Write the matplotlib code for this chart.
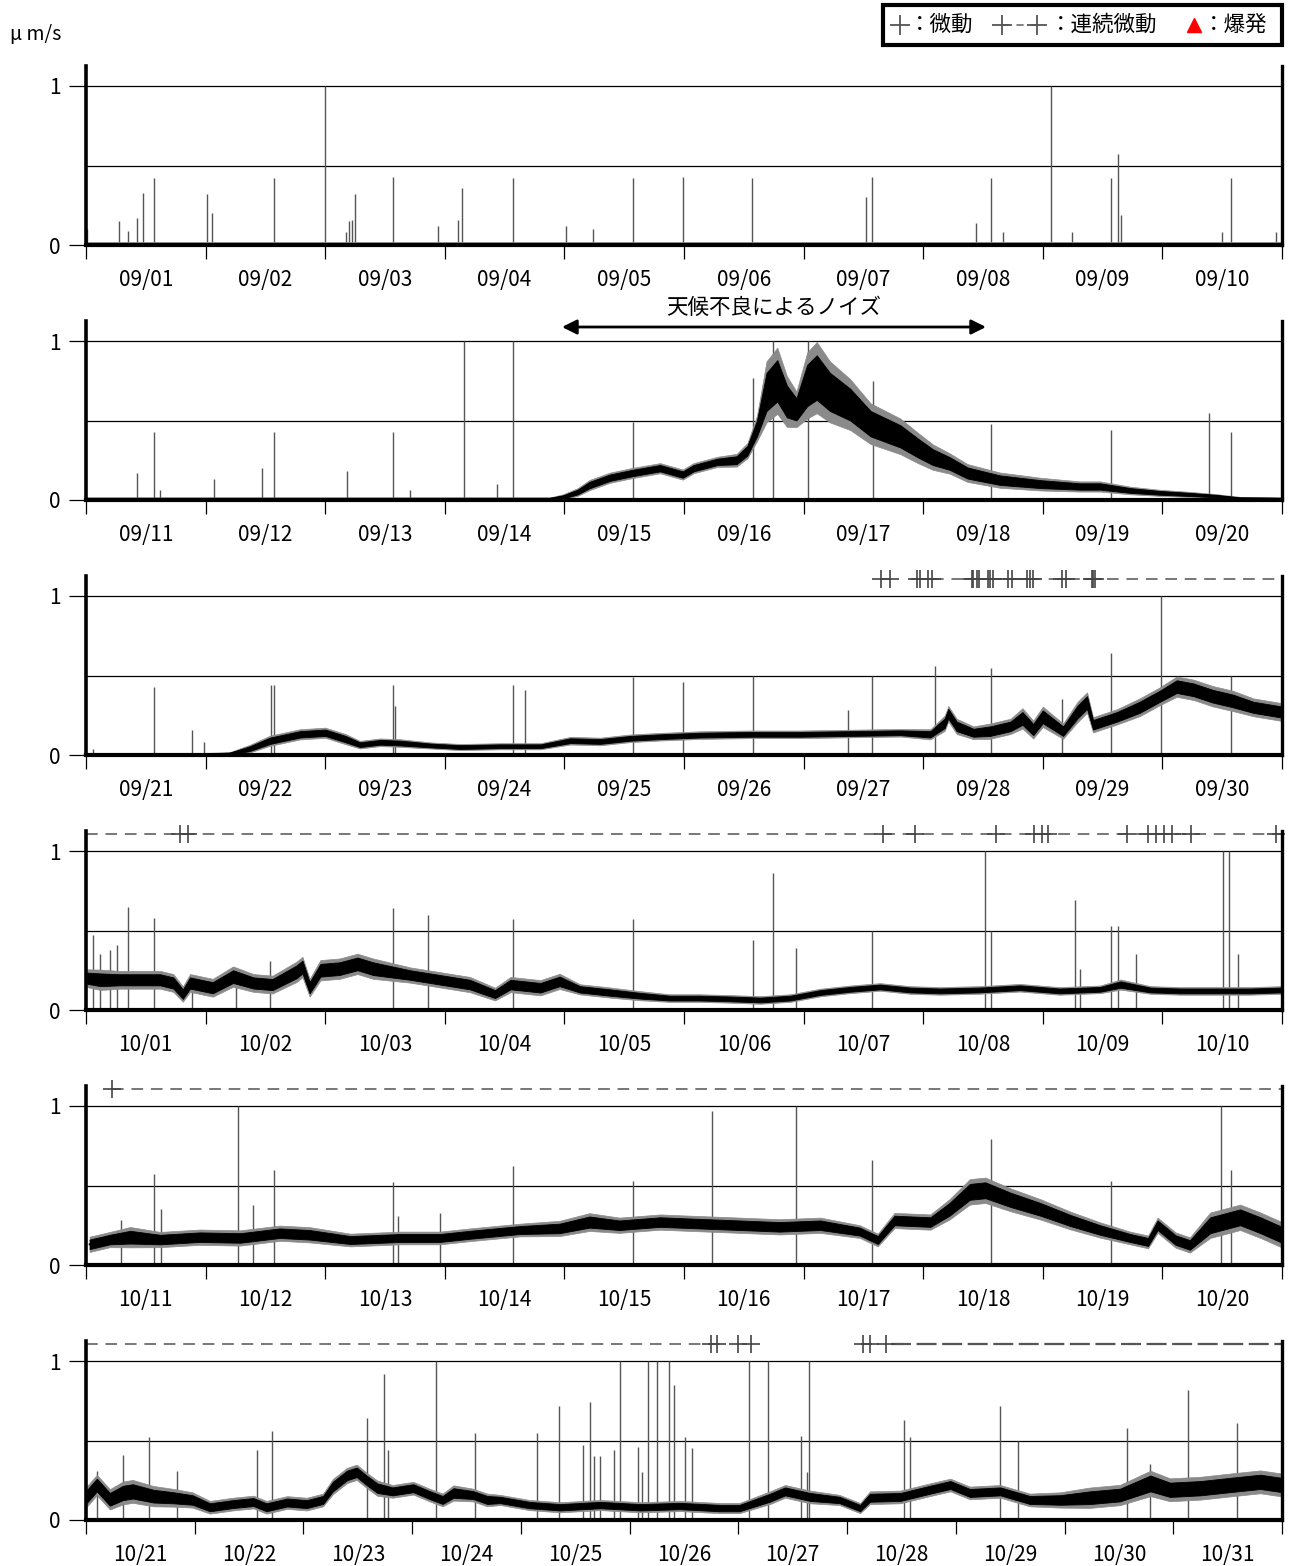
import numpy as np
import matplotlib
matplotlib.use('Agg')
import matplotlib.pyplot as plt
from matplotlib.patches import Rectangle

plt.rcParams['font.family'] = ['Noto Sans CJK JP', 'DejaVu Sans']

W, H = 1292, 1566

# ---------------- data (days from panel start, amplitude in um/s) ----------------
labels1 = ['09/01', '09/02', '09/03', '09/04', '09/05', '09/06', '09/07', '09/08', '09/09', '09/10']
labels2 = ['09/11', '09/12', '09/13', '09/14', '09/15', '09/16', '09/17', '09/18', '09/19', '09/20']
labels3 = ['09/21', '09/22', '09/23', '09/24', '09/25', '09/26', '09/27', '09/28', '09/29', '09/30']
labels4 = ['10/01', '10/02', '10/03', '10/04', '10/05', '10/06', '10/07', '10/08', '10/09', '10/10']
labels5 = ['10/11', '10/12', '10/13', '10/14', '10/15', '10/16', '10/17', '10/18', '10/19', '10/20']
labels6 = ['10/21', '10/22', '10/23', '10/24', '10/25', '10/26', '10/27', '10/28', '10/29', '10/30', '10/31']

# panel 1
p1_t = [0, 10]
p1_v = [0.008, 0.008]
p1_w = [0.006, 0.006]
p1_spk_t = [0.01, 0.28, 0.35, 0.43, 0.48, 0.57, 1.01, 1.05, 1.57, 2.00, 2.17, 2.20, 2.22, 2.25, 2.57,
            2.94, 3.11, 3.14, 3.57, 4.01, 4.24, 4.57, 4.99, 5.57, 6.52, 6.57, 7.44, 7.57, 7.67, 8.07,
            8.24, 8.57, 8.63, 8.65, 9.50, 9.57, 9.95]
p1_spk_v = [0.10, 0.15, 0.09, 0.17, 0.33, 0.42, 0.32, 0.20, 0.42, 1.00, 0.08, 0.15, 0.16, 0.32, 0.43,
            0.12, 0.16, 0.36, 0.42, 0.12, 0.10, 0.42, 0.43, 0.42, 0.30, 0.43, 0.14, 0.42, 0.08, 1.00,
            0.08, 0.42, 0.57, 0.19, 0.08, 0.42, 0.08]

# panel 2
p2_t = [0, 3.88, 3.99, 4.11, 4.21, 4.38, 4.57, 4.80, 4.99, 5.08, 5.28, 5.44, 5.53, 5.61, 5.69, 5.78,
        5.86, 5.94, 6.03, 6.11, 6.22, 6.39, 6.56, 6.81, 6.95, 7.08, 7.22, 7.37, 7.64, 7.98, 8.31,
        8.48, 8.73, 8.98, 9.23, 9.44, 9.65, 10]
p2_v = [0.008, 0.008, 0.02, 0.05, 0.094, 0.14, 0.17, 0.20, 0.16, 0.20, 0.24, 0.25, 0.31, 0.45, 0.68,
        0.75, 0.62, 0.57, 0.72, 0.77, 0.68, 0.60, 0.48, 0.40, 0.33, 0.27, 0.23, 0.17, 0.125, 0.10,
        0.085, 0.085, 0.06, 0.045, 0.035, 0.025, 0.01, 0.008]
p2_w = [0.005, 0.005, 0.01, 0.015, 0.02, 0.02, 0.02, 0.02, 0.02, 0.02, 0.02, 0.025, 0.03, 0.05, 0.12,
        0.13, 0.10, 0.07, 0.13, 0.14, 0.12, 0.10, 0.08, 0.07, 0.06, 0.05, 0.04, 0.035, 0.03, 0.025,
        0.02, 0.02, 0.015, 0.012, 0.01, 0.008, 0.006, 0.005]
p2_spk_t = [0.43, 0.57, 0.62, 1.07, 1.47, 1.57, 2.18, 2.57, 2.71, 3.16, 3.44, 3.57, 4.57, 5.58, 5.74,
            6.04, 6.58, 7.57, 8.57, 9.39, 9.57]
p2_spk_v = [0.17, 0.43, 0.06, 0.13, 0.20, 0.43, 0.18, 0.43, 0.06, 1.00, 0.10, 1.00, 0.49, 0.77, 1.00,
            1.00, 0.75, 0.48, 0.44, 0.55, 0.43]

# panel 3
p3_t = [0, 0.95, 1.20, 1.37, 1.54, 1.79, 2.00, 2.17, 2.29, 2.46, 2.63, 2.88, 3.13, 3.46, 3.80, 4.05,
        4.30, 4.55, 4.80, 5.13, 5.55, 5.97, 6.39, 6.81, 7.06, 7.18, 7.21, 7.28, 7.42, 7.56, 7.73,
        7.83, 7.92, 8.00, 8.17, 8.29, 8.37, 8.42, 8.62, 8.81, 8.98, 9.12, 9.26, 9.42, 9.59, 9.76, 10]
p3_v = [0.005, 0.005, 0.008, 0.04, 0.09, 0.13, 0.14, 0.10, 0.065, 0.08, 0.075, 0.06, 0.05, 0.055,
        0.055, 0.09, 0.085, 0.105, 0.115, 0.125, 0.13, 0.13, 0.135, 0.14, 0.13, 0.20, 0.26, 0.18,
        0.14, 0.15, 0.18, 0.23, 0.16, 0.24, 0.15, 0.27, 0.33, 0.19, 0.24, 0.30, 0.37, 0.43, 0.41,
        0.37, 0.34, 0.30, 0.27]
p3_w = [0.004, 0.004, 0.006, 0.015, 0.02, 0.02, 0.02, 0.02, 0.015, 0.015, 0.015, 0.012, 0.012, 0.012,
        0.012, 0.015, 0.015, 0.015, 0.015, 0.015, 0.015, 0.015, 0.015, 0.015, 0.02, 0.03, 0.03, 0.03,
        0.025, 0.03, 0.03, 0.04, 0.035, 0.04, 0.03, 0.04, 0.04, 0.03, 0.03, 0.035, 0.035, 0.04, 0.04,
        0.04, 0.04, 0.035, 0.035]
p3_spk_t = [0.06, 0.57, 0.89, 0.99, 1.55, 1.57, 2.57, 2.58, 3.57, 3.67, 4.57, 4.99, 5.58, 6.37, 6.57,
            7.10, 7.57, 8.16, 8.57, 8.99, 9.57]
p3_spk_v = [0.04, 0.43, 0.16, 0.08, 0.44, 0.44, 0.44, 0.31, 0.44, 0.41, 0.49, 0.46, 0.50, 0.28, 0.50,
            0.56, 0.55, 0.35, 0.64, 1.00, 0.50]
p3_trem = [6.645, 6.72, 6.95, 6.97, 7.04, 7.07, 7.41, 7.42, 7.45, 7.47, 7.54, 7.56, 7.58, 7.71, 7.74,
           7.87, 7.89, 7.92, 8.16, 8.19, 8.41, 8.42, 8.44]
p3_cont = [(7.07, 10.0)]

# panel 4
p4_t = [0.01, 0.12, 0.28, 0.45, 0.62, 0.73, 0.81, 0.87, 1.06, 1.23, 1.40, 1.56, 1.76, 1.81, 1.87,
        1.96, 2.12, 2.27, 2.40, 2.71, 2.96, 3.21, 3.42, 3.55, 3.80, 3.96, 4.13, 4.38, 4.63, 4.88,
        5.13, 5.38, 5.64, 5.89, 6.14, 6.39, 6.64, 6.89, 7.14, 7.47, 7.81, 8.14, 8.48, 8.65, 8.90,
        9.15, 9.40, 9.73, 10]
p4_v = [0.20, 0.19, 0.19, 0.19, 0.19, 0.17, 0.10, 0.17, 0.14, 0.21, 0.17, 0.16, 0.24, 0.27, 0.14,
        0.25, 0.26, 0.29, 0.26, 0.22, 0.19, 0.16, 0.10, 0.16, 0.14, 0.18, 0.13, 0.11, 0.09, 0.075,
        0.075, 0.07, 0.063, 0.075, 0.11, 0.13, 0.145, 0.126, 0.12, 0.126, 0.14, 0.12, 0.13, 0.16,
        0.126, 0.12, 0.12, 0.12, 0.126]
p4_w = [0.035, 0.04, 0.035, 0.035, 0.035, 0.035, 0.03, 0.035, 0.035, 0.04, 0.035, 0.035, 0.04, 0.04,
        0.035, 0.04, 0.04, 0.04, 0.04, 0.03, 0.03, 0.03, 0.025, 0.03, 0.03, 0.03, 0.02, 0.02, 0.018,
        0.015, 0.015, 0.015, 0.015, 0.015, 0.015, 0.015, 0.015, 0.015, 0.015, 0.015, 0.015, 0.015,
        0.015, 0.02, 0.015, 0.015, 0.015, 0.015, 0.015]
p4_spk_t = [0.06, 0.12, 0.20, 0.26, 0.35, 0.57, 0.89, 1.25, 1.54, 2.57, 2.86, 3.57, 4.57, 5.58, 5.74,
            5.94, 6.57, 7.52, 7.57, 8.27, 8.31, 8.57, 8.63, 8.78, 9.51, 9.56, 9.63]
p4_spk_v = [0.47, 0.35, 0.38, 0.41, 0.65, 0.58, 0.22, 0.26, 0.31, 0.64, 0.60, 0.57, 0.57, 0.44, 0.86,
            0.39, 0.50, 1.00, 0.50, 0.69, 0.26, 0.53, 0.53, 0.35, 1.00, 1.00, 0.35]
p4_trem = [0.79, 0.85, 6.66, 6.93, 7.61, 7.93, 7.99, 8.04, 8.70, 8.88, 8.95, 9.01, 9.08, 9.24, 9.95]
p4_cont = [(0.0, 10.0)]

# panel 5
p5_t = [0.03, 0.20, 0.37, 0.62, 0.95, 1.29, 1.62, 1.87, 2.21, 2.63, 2.96, 3.21, 3.63, 3.96, 4.21,
        4.46, 4.80, 5.13, 5.47, 5.80, 6.14, 6.47, 6.62, 6.76, 7.06, 7.22, 7.39, 7.52, 7.73, 7.98,
        8.23, 8.48, 8.73, 8.88, 8.96, 9.11, 9.23, 9.40, 9.65, 9.82, 10]
p5_v = [0.13, 0.16, 0.175, 0.16, 0.175, 0.17, 0.20, 0.19, 0.157, 0.17, 0.17, 0.19, 0.22, 0.23, 0.27,
        0.25, 0.27, 0.26, 0.25, 0.24, 0.25, 0.21, 0.157, 0.28, 0.27, 0.35, 0.46, 0.47, 0.41, 0.35,
        0.28, 0.22, 0.17, 0.145, 0.25, 0.157, 0.126, 0.25, 0.30, 0.25, 0.19]
p5_w = [0.03, 0.03, 0.04, 0.03, 0.03, 0.03, 0.03, 0.03, 0.025, 0.025, 0.025, 0.025, 0.025, 0.03,
        0.035, 0.03, 0.03, 0.03, 0.03, 0.03, 0.03, 0.025, 0.025, 0.03, 0.03, 0.04, 0.05, 0.05, 0.045,
        0.04, 0.035, 0.03, 0.025, 0.025, 0.03, 0.03, 0.03, 0.05, 0.05, 0.05, 0.05]
p5_spk_t = [0.29, 0.57, 0.63, 1.27, 1.40, 1.57, 2.57, 2.61, 2.96, 3.57, 4.57, 5.23, 5.94, 6.57, 7.57,
            8.57, 9.49, 9.57]
p5_spk_v = [0.28, 0.57, 0.35, 1.00, 0.38, 0.60, 0.52, 0.31, 0.33, 0.62, 0.53, 0.97, 1.00, 0.66, 0.79,
            0.53, 1.00, 0.60]
p5_trem = [0.22]
p5_cont = [(0.22, 10.0)]

# panel 6 (11 days)
p6_t = [0.01, 0.10, 0.22, 0.34, 0.43, 0.62, 0.80, 0.98, 1.14, 1.35, 1.54, 1.66, 1.85, 2.03, 2.18,
        2.27, 2.40, 2.49, 2.58, 2.68, 2.82, 3.01, 3.16, 3.28, 3.38, 3.56, 3.69, 3.81, 4.08, 4.36,
        4.73, 5.10, 5.46, 5.83, 6.01, 6.29, 6.43, 6.66, 6.93, 7.12, 7.21, 7.49, 7.76, 7.95, 8.13,
        8.41, 8.68, 8.96, 9.23, 9.51, 9.79, 9.97, 10.25, 10.52, 10.80, 11.0]
p6_v = [0.15, 0.22, 0.13, 0.17, 0.18, 0.15, 0.14, 0.126, 0.08, 0.10, 0.113, 0.08, 0.11, 0.10, 0.126,
        0.21, 0.28, 0.30, 0.25, 0.20, 0.18, 0.20, 0.157, 0.126, 0.17, 0.157, 0.126, 0.126, 0.094,
        0.08, 0.094, 0.08, 0.088, 0.075, 0.075, 0.14, 0.18, 0.145, 0.126, 0.075, 0.14, 0.145, 0.19,
        0.22, 0.17, 0.18, 0.126, 0.126, 0.14, 0.157, 0.23, 0.19, 0.20, 0.22, 0.24, 0.22]
p6_w = [0.04, 0.04, 0.04, 0.045, 0.045, 0.04, 0.035, 0.03, 0.025, 0.025, 0.025, 0.025, 0.025, 0.025,
        0.025, 0.03, 0.03, 0.03, 0.03, 0.03, 0.025, 0.025, 0.025, 0.025, 0.03, 0.025, 0.025, 0.02,
        0.02, 0.02, 0.02, 0.02, 0.02, 0.02, 0.02, 0.025, 0.025, 0.025, 0.02, 0.02, 0.025, 0.025,
        0.025, 0.025, 0.025, 0.025, 0.025, 0.03, 0.04, 0.04, 0.05, 0.045, 0.045, 0.045, 0.045, 0.045]
p6_spk_t = [0.10, 0.34, 0.58, 0.84, 1.57, 1.71, 2.58, 2.74, 2.78, 3.22, 3.58, 4.15, 4.35, 4.57, 4.64,
            4.67, 4.73, 4.86, 4.91, 5.08, 5.11, 5.17, 5.25, 5.36, 5.41, 5.51, 5.57, 6.10, 6.27, 6.58,
            6.63, 6.65, 7.52, 7.58, 8.41, 8.57, 9.57, 9.79, 10.14, 10.59]
p6_spk_v = [0.31, 0.41, 0.52, 0.31, 0.44, 0.56, 0.64, 0.92, 0.44, 1.00, 0.55, 0.55, 0.72, 0.47, 0.74,
            0.40, 0.40, 0.44, 1.00, 0.46, 0.30, 1.00, 1.00, 1.00, 0.85, 0.52, 0.45, 1.00, 1.00, 0.53,
            0.30, 1.00, 0.63, 0.52, 0.72, 0.50, 0.58, 0.35, 0.82, 0.61]
p6_trem = [5.75, 5.80, 6.00, 6.12, 7.15, 7.21, 7.36]
p6_cont = [(0.0, 5.75)]
p6_cont_dark = [(7.40, 11.0)]

noise_span = (3.98, 7.525)
noise_text = '天候不良によるノイズ'

# ---------------- figure ----------------
fig = plt.figure(figsize=(W / 100, H / 100), dpi=100)

panels = [
    (labels1, p1_t, p1_v, p1_w, p1_spk_t, p1_spk_v, [], [], []),
    (labels2, p2_t, p2_v, p2_w, p2_spk_t, p2_spk_v, [], [], []),
    (labels3, p3_t, p3_v, p3_w, p3_spk_t, p3_spk_v, p3_trem, p3_cont, []),
    (labels4, p4_t, p4_v, p4_w, p4_spk_t, p4_spk_v, p4_trem, p4_cont, []),
    (labels5, p5_t, p5_v, p5_w, p5_spk_t, p5_spk_v, p5_trem, p5_cont, []),
    (labels6, p6_t, p6_v, p6_w, p6_spk_t, p6_spk_v, p6_trem, p6_cont, p6_cont_dark),
]

zero_px = [245, 500, 755, 1010, 1265, 1520]
unit_px = 159
ytop = 1.125
ax_left = 86 / W
ax_w = 1196 / W
trem_y = 1.105

axes = []
for (labels, bt, bv, bw, st, sv, trem, cont, contd), y0 in zip(panels, zero_px):
    nd = len(labels)
    ax = fig.add_axes([ax_left, 1 - y0 / H, ax_w, ytop * unit_px / H])
    axes.append(ax)
    ax.set_xlim(0, nd)
    ax.set_ylim(0, ytop)
    for gy in (0.5, 1.0):
        ax.axhline(gy, color='black', lw=0.9, zorder=1)
    ax.vlines(st, 0, sv, colors='#555555', lw=1.0, zorder=2)
    bt = np.asarray(bt); bv = np.asarray(bv); bw = np.asarray(bw)
    ax.fill_between(bt, bv - 1.6 * bw, bv + 1.6 * bw, color='#8a8a8a', lw=0.5, zorder=3)
    ax.fill_between(bt, bv - bw, bv + bw, color='black', lw=0.6, zorder=3)
    ax.plot(bt, bv, color='black', lw=1.3, zorder=3)

    for a, b in cont:
        ax.plot([a, b], [trem_y, trem_y], color='#777777', lw=1.4, ls=(0, (6, 4)),
                clip_on=False, zorder=4)
    for a, b in contd:
        ax.plot([a, b], [trem_y, trem_y], color='#555555', lw=1.6, ls=(0, (9, 2.5)),
                clip_on=False, zorder=4)
    if trem:
        ax.plot(trem, [trem_y] * len(trem), ls='none', marker='+', ms=13, mew=1.2,
                color='#444444', clip_on=False, zorder=5)

    ax.spines['top'].set_visible(False)
    ax.spines['left'].set_linewidth(2.6)
    ax.spines['right'].set_linewidth(2.4)
    ax.spines['bottom'].set_linewidth(3.0)
    for s in ax.spines.values():
        s.set_zorder(6)

    ax.set_yticks([0, 1])
    ax.set_yticklabels(['0', '1'])
    ax.tick_params(axis='y', direction='out', length=12, width=0.9, labelsize=15, pad=6)
    ax.set_xticks(np.arange(nd + 1))
    ax.set_xticklabels([])
    ax.set_xticks(np.arange(nd) + 0.5, minor=True)
    ax.set_xticklabels(labels, minor=True)
    ax.tick_params(axis='x', which='major', direction='out', length=10, width=0.9)
    ax.tick_params(axis='x', which='minor', length=0, labelsize=15, pad=17.5)

# noise annotation on panel 2
ax2 = axes[1]
ax2.annotate('', xy=(noise_span[0], 1.088), xytext=(noise_span[1], 1.088),
             arrowprops=dict(arrowstyle='<|-|>', color='black', lw=2.0,
                             mutation_scale=22, shrinkA=0, shrinkB=0),
             annotation_clip=False)
ax2.text(sum(noise_span) / 2, 1.205, noise_text, ha='center', va='center', fontsize=15.5,
         clip_on=False)

# overlay for legend and unit label (pixel coordinates)
ov = fig.add_axes([0, 0, 1, 1], zorder=10)
ov.set_xlim(0, W)
ov.set_ylim(H, 0)
ov.axis('off')
ov.patch.set_visible(False)

ov.text(10, 35, 'μ m/s', fontsize=14, ha='left', va='center')
ov.add_patch(Rectangle((883, 5), 399, 40, fill=True, facecolor='white', edgecolor='black', lw=3))
ov.plot([900], [25], marker='+', ms=15, mew=1.3, color='#555555')
ov.text(909, 25, '：微動', fontsize=15.5, ha='left', va='center')
ov.plot([1002, 1037], [25, 25], color='#777777', lw=1.3, ls=(0, (4, 4)))
ov.plot([1002, 1037], [25, 25], ls='none', marker='+', ms=15, mew=1.3, color='#555555')
ov.text(1050, 25, '：連続微動', fontsize=15.5, ha='left', va='center')
ov.plot([1194], [25], marker='^', ms=10, color='red', mec='red')
ov.text(1203, 25, '：爆発', fontsize=15.5, ha='left', va='center')

fig.savefig('out.png', dpi=100)
